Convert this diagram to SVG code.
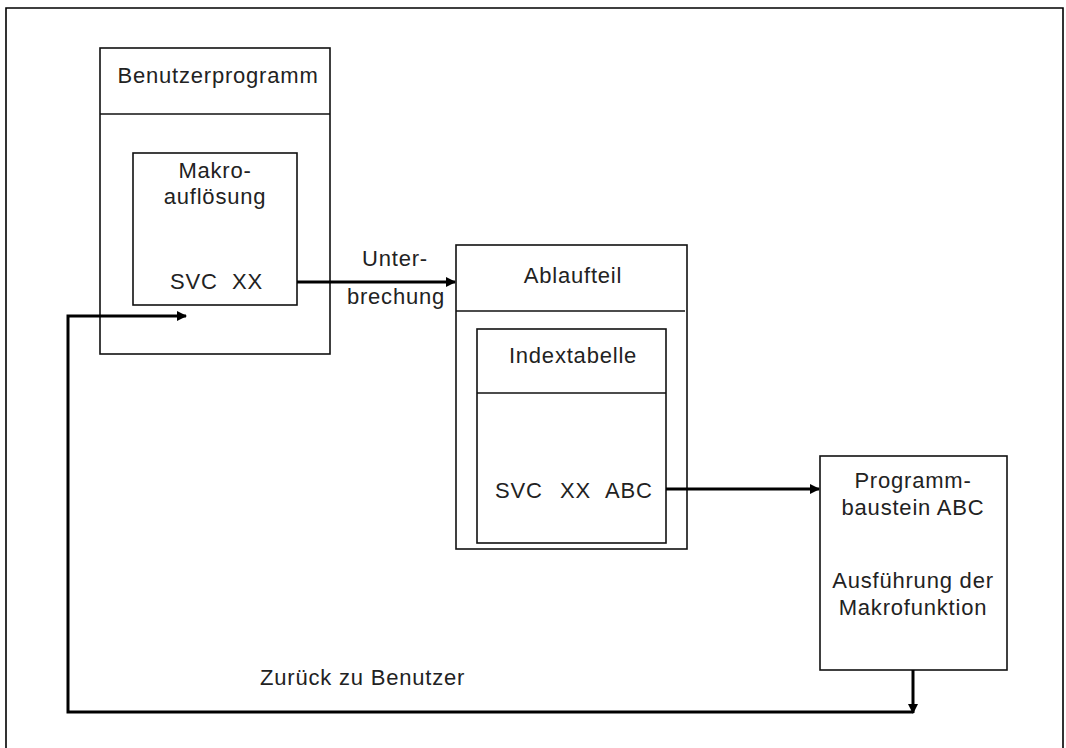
<svg xmlns="http://www.w3.org/2000/svg" width="1066" height="748" viewBox="0 0 1066 748">
<defs>
<style>
.box{fill:none;stroke:#111;stroke-width:1.6}
.div{stroke:#111;stroke-width:1.6}
.conn{fill:none;stroke:#000;stroke-width:3}
text{font-family:"Liberation Sans",Arial,sans-serif;font-size:22px;fill:#222;letter-spacing:0.8px}
.c{text-anchor:middle}
</style>
<marker id="ah" viewBox="0 0 10 10" refX="9" refY="5" markerWidth="3.4" markerHeight="3.4" markerUnits="strokeWidth" orient="auto">
<path d="M0,0 L10,5 L0,10 z" fill="#000"/>
</marker>
</defs>
<rect width="1066" height="748" fill="#fff"/>
<path d="M6,748 V8 H1063 V748" fill="none" stroke="#000" stroke-width="1.6"/>

<g id="benutzerprogramm">
<rect class="box" x="100" y="48" width="230" height="306"/>
<line class="div" x1="100" y1="114" x2="330" y2="114"/>
<text class="c" x="218" y="83">Benutzerprogramm</text>
</g>

<g id="makroaufloesung">
<rect class="box" x="133" y="153" width="164" height="152"/>
<text class="c" x="215" y="178">Makro-</text>
<text class="c" x="215" y="204">auflösung</text>
<text x="170" y="289">SVC<tspan x="232">XX</tspan></text>
</g>

<g id="ablaufteil">
<rect class="box" x="456" y="245" width="231" height="304"/>
<line class="div" x1="456" y1="311" x2="685" y2="311"/>
<text class="c" x="573" y="283">Ablaufteil</text>
</g>

<g id="indextabelle">
<rect class="box" x="477" y="329" width="189" height="214"/>
<line class="div" x1="477" y1="393" x2="666" y2="393"/>
<text class="c" x="573" y="363">Indextabelle</text>
<text x="495" y="498">SVC<tspan x="560">XX</tspan><tspan x="605">ABC</tspan></text>
</g>

<g id="programmbaustein">
<rect class="box" x="820" y="456" width="187" height="214"/>
<text class="c" x="913" y="488">Programm-</text>
<text class="c" x="913" y="515">baustein ABC</text>
<text class="c" x="913" y="588">Ausführung der</text>
<text class="c" x="913" y="615">Makrofunktion</text>
</g>

<g id="connectors">
<line class="conn" x1="297" y1="282" x2="455" y2="282" marker-end="url(#ah)"/>
<line class="conn" x1="666" y1="489" x2="819" y2="489" marker-end="url(#ah)"/>
<line class="conn" x1="913" y1="670" x2="913" y2="713" marker-end="url(#ah)"/>
<path class="conn" d="M913,712 H68 V316 H186" marker-end="url(#ah)"/>
<text class="c" x="395" y="266">Unter-</text>
<text class="c" x="396" y="304">brechung</text>
<text x="260" y="685">Zurück zu Benutzer</text>
</g>
</svg>
